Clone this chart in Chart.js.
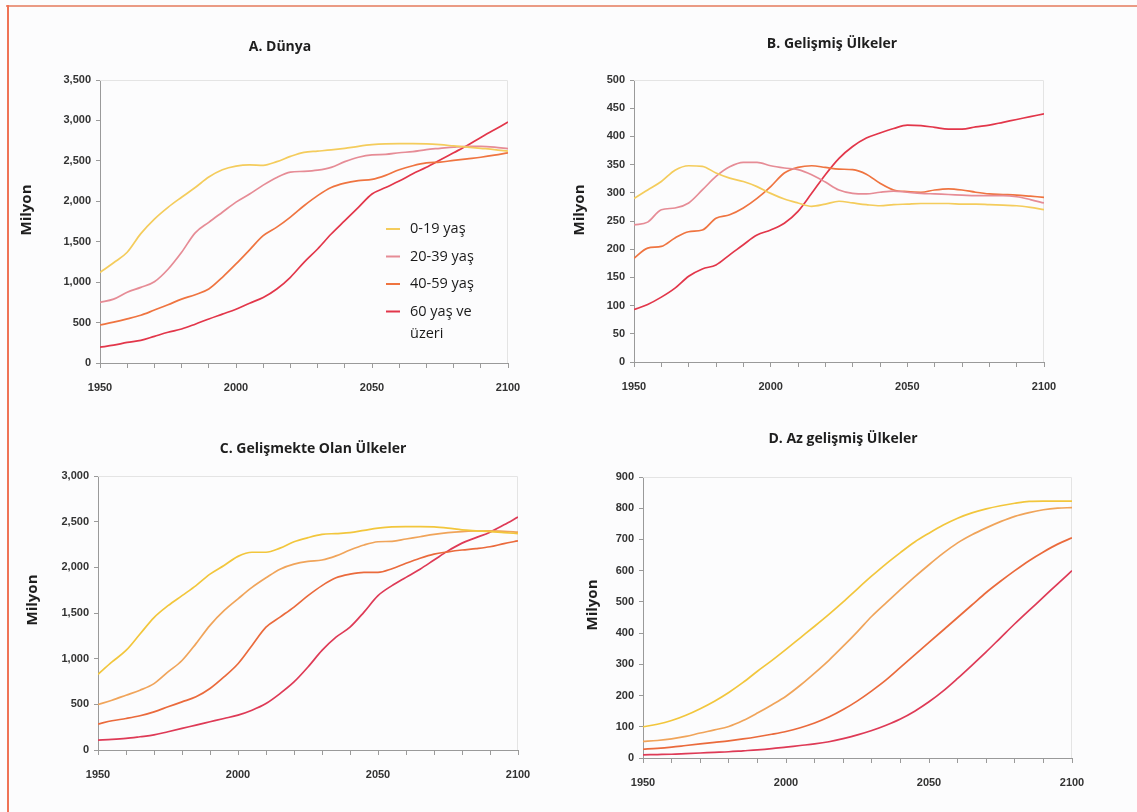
<!DOCTYPE html>
<html>
<head>
<meta charset="utf-8">
<script src="https://cdn.jsdelivr.net/npm/chart.js@4.4.1/dist/chart.umd.min.js"></script>
<style>
  html, body { margin: 0; padding: 0; background: #fcfcfd; }
  body { width: 1137px; height: 812px; position: relative; overflow: hidden; }
  .frame-top { position: absolute; left: 6px; top: 5px; width: 1131px; height: 2px; background: #ea9a84; }
  .frame-left { position: absolute; left: 7px; top: 5px; width: 2px; height: 807px; background: #ef7356; }
  canvas { position: absolute; }
</style>
</head>
<body>
<div class="frame-top"></div>
<div class="frame-left"></div>
<canvas id="cA"></canvas>
<canvas id="cB"></canvas>
<canvas id="cC"></canvas>
<canvas id="cD"></canvas>
<script>
// Yıllar (5 yıllık adımlar)
const yillar = [1950, 1955, 1960, 1965, 1970, 1975, 1980, 1985, 1990, 1995,
  2000, 2005, 2010, 2015, 2020, 2025, 2030, 2035, 2040, 2045,
  2050, 2055, 2060, 2065, 2070, 2075, 2080, 2085, 2090, 2095, 2100];

const gruplar = ['0-19 yaş', '20-39 yaş', '40-59 yaş', '60 yaş ve üzeri'];

// A. Dünya (milyon)
const dunya019 = [1120, 1240, 1370, 1600, 1780, 1925, 2050, 2170, 2300, 2390, 2435, 2450, 2445, 2490, 2555, 2605, 2620, 2635, 2655, 2680, 2700, 2710, 2712, 2712, 2710, 2700, 2685, 2670, 2655, 2640, 2620];
const dunya2039 = [750, 790, 875, 935, 1005, 1160, 1370, 1610, 1740, 1865, 1990, 2090, 2200, 2295, 2360, 2370, 2385, 2420, 2490, 2545, 2575, 2580, 2600, 2615, 2640, 2655, 2670, 2680, 2680, 2670, 2650];
const dunya4059 = [470, 505, 545, 590, 655, 720, 790, 845, 915, 1060, 1225, 1400, 1575, 1680, 1805, 1945, 2070, 2170, 2225, 2255, 2270, 2320, 2390, 2440, 2475, 2485, 2505, 2525, 2545, 2570, 2600];
const dunya60 = [195, 220, 255, 280, 330, 380, 420, 480, 545, 605, 665, 740, 810, 915, 1060, 1245, 1410, 1595, 1760, 1925, 2090, 2170, 2250, 2340, 2420, 2510, 2600, 2690, 2790, 2885, 2980];

// B. Gelişmiş Ülkeler
const gelismis019 = [290, 305, 320, 340, 348, 347, 335, 326, 320, 311, 299, 289, 282, 276, 280, 285, 282, 279, 277, 279, 280, 281, 281, 281, 280, 280, 279, 278, 277, 274, 270];
const gelismis2039 = [243, 248, 270, 273, 282, 305, 329, 346, 354, 354, 348, 344, 341, 332, 319, 305, 299, 298, 301, 303, 301, 299, 298, 297, 296, 295, 295, 295, 293, 288, 282];
const gelismis4059 = [184, 202, 205, 220, 231, 234, 255, 261, 273, 290, 311, 335, 345, 348, 345, 342, 341, 333, 317, 305, 302, 301, 305, 307, 305, 301, 298, 297, 296, 294, 292];
const gelismis60 = [93, 102, 115, 131, 152, 165, 172, 190, 208, 225, 234, 246, 267, 299, 332, 361, 382, 397, 406, 414, 420, 419, 416, 413, 413, 417, 420, 425, 430, 435, 440];

// C. Gelişmekte Olan Ülkeler
const gelismekte019 = [829, 964, 1090, 1270, 1450, 1580, 1690, 1800, 1925, 2020, 2120, 2165, 2165, 2210, 2280, 2325, 2360, 2370, 2380, 2405, 2430, 2443, 2445, 2445, 2443, 2430, 2410, 2400, 2392, 2380, 2370];
const gelismekte2039 = [498, 545, 600, 655, 727, 855, 980, 1165, 1365, 1525, 1655, 1780, 1885, 1980, 2035, 2065, 2080, 2125, 2190, 2245, 2280, 2285, 2310, 2335, 2360, 2380, 2392, 2398, 2400, 2395, 2385];
const gelismekte4059 = [284, 320, 345, 375, 418, 473, 527, 582, 673, 800, 945, 1145, 1345, 1455, 1565, 1690, 1800, 1885, 1925, 1945, 1945, 1985, 2045, 2100, 2145, 2170, 2190, 2205, 2225, 2260, 2290];
const gelismekte60 = [109, 116, 127, 145, 165, 200, 236, 273, 309, 345, 382, 436, 509, 618, 745, 909, 1090, 1235, 1345, 1510, 1690, 1800, 1890, 1980, 2080, 2180, 2265, 2325, 2385, 2465, 2550];

// D. Az gelişmiş Ülkeler
const azgelismis019 = [100, 108, 120, 137, 158, 182, 210, 242, 278, 312, 348, 385, 422, 460, 500, 542, 583, 622, 658, 692, 720, 746, 768, 785, 798, 808, 816, 822, 823, 823, 823];
const azgelismis2039 = [53, 56, 61, 69, 80, 90, 101, 120, 144, 170, 198, 233, 272, 313, 358, 405, 454, 497, 539, 580, 619, 656, 689, 715, 737, 757, 774, 786, 795, 800, 802];
const azgelismis4059 = [28, 31, 35, 40, 45, 50, 55, 61, 68, 76, 85, 97, 112, 131, 155, 183, 215, 250, 290, 330, 370, 410, 450, 490, 530, 566, 600, 632, 660, 685, 705];
const azgelismis60 = [10, 11, 12, 14, 16, 18, 20, 23, 26, 30, 35, 40, 45, 52, 62, 74, 88, 105, 125, 150, 180, 215, 255, 297, 340, 385, 430, 473, 515, 558, 600];

// Eksen üst sınırları ve adımları
const yMaxA = 3500, yStepA = 500;
const yMaxB = 500, yStepB = 50;
const yMaxC = 3000, yStepC = 500;
const yMaxD = 900, yStepD = 100;

// Başlık, "Milyon" yazısı ve çerçeve çizimi
const panelText = {
  id: 'panelText',
  beforeDatasetsDraw(chart) {
    const a = chart.chartArea, c = chart.ctx;
    c.save();
    c.strokeStyle = '#e4e4e4';
    c.lineWidth = 1;
    c.beginPath();
    c.moveTo(a.left, a.top + 0.5);
    c.lineTo(a.right - 0.5, a.top + 0.5);
    c.lineTo(a.right - 0.5, a.bottom);
    c.stroke();
    c.restore();
  },
  afterDraw(chart, args, o) {
    const c = chart.ctx;
    c.save();
    c.fillStyle = '#1e1e1e';
    c.textAlign = 'center';
    c.textBaseline = 'middle';
    c.font = 'bold 14px "Open Sans", sans-serif';
    c.fillText(o.title, o.tx, o.ty);
    c.translate(o.yx, o.yy);
    c.rotate(-Math.PI / 2);
    c.font = 'bold 15px "Open Sans", sans-serif';
    c.fillText('Milyon', 0, 0);
    c.restore();
  }
};

// A grafiğindeki iç lejant
const icLejant = {
  id: 'icLejant',
  afterDraw(chart, args, o) {
    if (!o.show) return;
    const c = chart.ctx;
    const satirlar = [['0-19 yaş'], ['20-39 yaş'], ['40-59 yaş'], ['60 yaş ve', 'üzeri']];
    c.save();
    c.font = '14.5px "Open Sans", sans-serif';
    c.textBaseline = 'middle';
    c.fillStyle = '#1a1a1a';
    satirlar.forEach((s, i) => {
      const y = o.y + i * o.rowH;
      c.strokeStyle = chart.data.datasets[i].borderColor;
      c.lineWidth = 2;
      c.beginPath();
      c.moveTo(o.x, y);
      c.lineTo(o.x + 14, y);
      c.stroke();
      s.forEach((t, j) => c.fillText(t, o.x + 24, y + j * 22));
    });
    c.restore();
  }
};

const tickFont = { family: '"Liberation Sans", Arial, sans-serif', size: 11, weight: 'bold' };

function cizPanel(p) {
  const cv = document.getElementById(p.id);
  const [cx, cy, cw, ch] = p.box;
  const [pl, pt, pr, pb] = p.plot;
  cv.width = cw; cv.height = ch;
  cv.style.left = cx + 'px'; cv.style.top = cy + 'px';
  cv.style.width = cw + 'px'; cv.style.height = ch + 'px';
  const yW = pl - cx, xH = 32;

  return new Chart(cv.getContext('2d'), {
    type: 'line',
    data: {
      labels: yillar,
      datasets: p.series.map((d, i) => ({
        label: gruplar[i],
        data: d,
        borderColor: p.colors[i],
        borderWidth: 1.7,
        pointRadius: 0,
        fill: false,
        cubicInterpolationMode: 'monotone'
      }))
    },
    options: {
      responsive: false,
      animation: false,
      devicePixelRatio: 1,
      layout: { padding: { left: 0, top: pt - cy, right: cx + cw - pr, bottom: cy + ch - pb - xH } },
      plugins: {
        legend: { display: false },
        tooltip: { enabled: false },
        panelText: { title: p.title, tx: p.titleAt[0] - cx, ty: p.titleAt[1] - cy, yx: p.yAt[0] - cx, yy: p.yAt[1] - cy },
        icLejant: { show: !!p.legend, x: 386 - cx, y: 229 - cy, rowH: 27.5 }
      },
      scales: {
        x: {
          type: 'linear', min: 1950, max: 2100,
          afterFit: s => { s.height = xH; },
          grid: { display: true, drawOnChartArea: false, drawTicks: true, tickLength: 5, color: '#9a9a9a' },
          border: { display: true, color: '#9a9a9a', width: 1 },
          ticks: { stepSize: 10, autoSkip: false, maxRotation: 0, padding: 13, color: '#333333', font: tickFont,
            callback: v => (v % 50 === 0 ? String(v) : '') }
        },
        y: {
          min: 0, max: p.max,
          afterFit: s => { s.width = yW; },
          grid: { display: true, drawOnChartArea: false, drawTicks: true, tickLength: 4, color: '#9a9a9a' },
          border: { display: true, color: '#9a9a9a', width: 1 },
          ticks: { stepSize: p.step, padding: 5, color: '#333333', font: tickFont,
            callback: v => v.toLocaleString('en-US') }
        }
      }
    },
    plugins: [panelText, icLejant]
  });
}

const renkA = ['#f4cc5c', '#e68c96', '#ef7440', '#e2364a'];
const renkC = ['#f2c63c', '#f0a45a', '#ea6a3c', '#de3a56'];

cizPanel({ id: 'cA', box: [10, 12, 545, 390], plot: [100, 80, 508, 363], title: 'A. Dünya', titleAt: [280, 47], yAt: [27, 210],
  max: yMaxA, step: yStepA, series: [dunya019, dunya2039, dunya4059, dunya60], colors: renkA, legend: true });
cizPanel({ id: 'cB', box: [560, 12, 560, 390], plot: [634, 80, 1044, 362], title: 'B. Gelişmiş Ülkeler', titleAt: [832, 44], yAt: [580, 210],
  max: yMaxB, step: yStepB, series: [gelismis019, gelismis2039, gelismis4059, gelismis60], colors: renkA });
cizPanel({ id: 'cC', box: [10, 402, 545, 400], plot: [98, 476, 518, 750], title: 'C. Gelişmekte Olan Ülkeler', titleAt: [313, 449], yAt: [33, 600],
  max: yMaxC, step: yStepC, series: [gelismekte019, gelismekte2039, gelismekte4059, gelismekte60], colors: renkC });
cizPanel({ id: 'cD', box: [560, 402, 570, 400], plot: [643, 477, 1072, 758], title: 'D. Az gelişmiş Ülkeler', titleAt: [843, 439], yAt: [593, 605],
  max: yMaxD, step: yStepD, series: [azgelismis019, azgelismis2039, azgelismis4059, azgelismis60], colors: renkC });
</script>
</body>
</html>
